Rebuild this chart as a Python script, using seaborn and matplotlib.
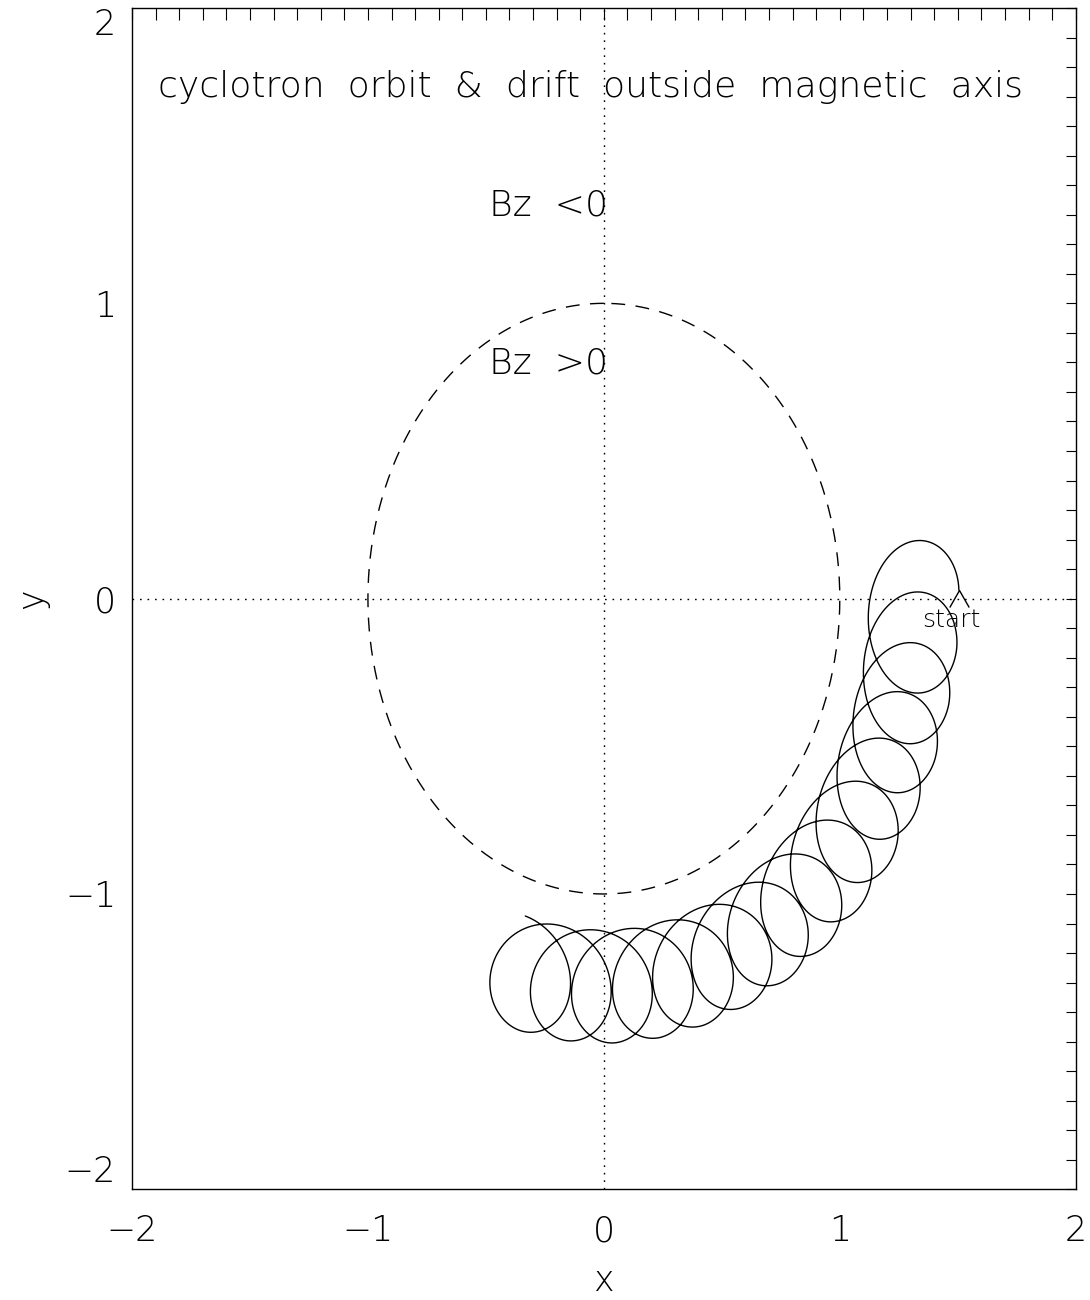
import numpy as np
import pandas as pd
import matplotlib
matplotlib.use("Agg")
import matplotlib.pyplot as plt
import seaborn as sns
from matplotlib.ticker import FixedLocator, MultipleLocator

# Guiding-centre position of the particle after each full gyration
# (turn 0 ... 14), plus the position where the trace stops (turn 14.5).
gc_turn = [0, 1, 2, 3, 4, 5, 6, 7, 8, 9, 10, 11, 12, 13, 14, 14.5]
gc_x = [1.3148, 1.3069, 1.2768, 1.2251, 1.1526, 1.0605, 0.9501, 0.8240,
        0.6840, 0.5321, 0.3713, 0.2041, 0.0335, -0.1377, -0.3066, -0.3892]
gc_y = [0.0252, -0.1459, -0.3146, -0.4779, -0.6331, -0.7776, -0.9091, -1.0248,
        -1.1231, -1.2025, -1.2615, -1.2991, -1.3146, -1.3078, -1.2788, -1.2561]

# Larmor radius along the radial and the azimuthal direction
gyro_radial = 0.19
gyro_azimuthal = 0.213

# Bz = 0 surface
reversal_radius = 1.0

axis_limits = [-2.0, 2.0]
major_ticks = [-2, -1, 0, 1, 2]
tick_labels = ["\u22122", "\u22121", "0", "1", "2"]

title_text = "cyclotron  orbit  &  drift  outside  magnetic  axis"
region_texts = ["Bz  <0", "Bz  >0"]
start_text = "start"

sns.set_style("white")
plt.rcParams["font.family"] = ["DejaVu Sans"]
plt.rcParams["font.weight"] = "light"
plt.rcParams["axes.labelweight"] = "light"
plt.rcParams["text.color"] = "black"
plt.rcParams["axes.labelcolor"] = "black"
plt.rcParams["xtick.color"] = "black"
plt.rcParams["ytick.color"] = "black"
plt.rcParams["mathtext.default"] = "regular"

fig = plt.figure(figsize=(10.9, 13), dpi=100)
ax = fig.add_axes([0.1211, 0.08515, 0.8658, 0.9087])

# particle trajectory: gyration about a drifting guiding centre
turn = np.linspace(0.0, gc_turn[-1], 4000)
cx = np.interp(turn, gc_turn, gc_x)
cy = np.interp(turn, gc_turn, gc_y)
az = np.arctan2(cy, cx)
phase = 2 * np.pi * turn
ox = gyro_radial * np.cos(phase) * np.cos(az) - gyro_azimuthal * np.sin(phase) * np.sin(az)
oy = gyro_radial * np.cos(phase) * np.sin(az) + gyro_azimuthal * np.sin(phase) * np.cos(az)
orbit = pd.DataFrame({"x": cx + ox, "y": cy + oy})

# field-reversal circle
ang = np.linspace(np.pi / 2, np.pi / 2 + 2 * np.pi, 721)
ring = pd.DataFrame({"x": reversal_radius * np.cos(ang),
                     "y": reversal_radius * np.sin(ang)})

ax.axhline(0, color="black", lw=1.0, linestyle=(0, (1.2, 4.2)), zorder=1)
ax.axvline(0, color="black", lw=1.0, linestyle=(0, (1.2, 4.2)), zorder=1)

sns.lineplot(data=ring, x="x", y="y", sort=False, estimator=None,
             color="black", lw=1.0, ax=ax)
ax.lines[-1].set_linestyle((0, (10, 7.5)))

sns.lineplot(data=orbit, x="x", y="y", sort=False, estimator=None,
             color="black", lw=1.0, ax=ax)

# start marker (open chevron with its apex on the first orbit point)
ax.plot(orbit["x"].iloc[0], orbit["y"].iloc[0],
        marker=[(-9.7, -17.0), (0.0, 0.0), (9.7, -17.0)], ms=24.5,
        mfc="none", mec="black", mew=1.0, linestyle="none")

txt = dict(color="black", fontweight="light")
ax.text(1.472, -0.096, start_text, ha="center", va="baseline", fontsize=18, **txt)
ax.text(-1.889, 1.698, title_text, ha="left", va="baseline", fontsize=26, **txt)
ax.text(-0.485, 1.299, region_texts[0], ha="left", va="baseline", fontsize=26, **txt)
ax.text(-0.485, 0.761, region_texts[1], ha="left", va="baseline", fontsize=26, **txt)

ax.set_xlim(axis_limits)
ax.set_ylim(axis_limits)
ax.xaxis.set_major_locator(FixedLocator(major_ticks))
ax.yaxis.set_major_locator(FixedLocator(major_ticks))
ax.set_xticklabels(tick_labels)
ax.set_yticklabels(tick_labels)
ax.xaxis.set_minor_locator(MultipleLocator(0.1))
ax.yaxis.set_minor_locator(MultipleLocator(0.1))

ax.tick_params(axis="both", which="both", direction="in", top=True, right=True,
               color="black", labelcolor="black", width=0.8, labelsize=25)
ax.tick_params(axis="x", which="both", length=8.4, pad=18)
ax.tick_params(axis="y", which="both", length=7.2, pad=11.5)

for side in ax.spines.values():
    side.set_visible(True)
    side.set_color("black")
    side.set_linewidth(1.0)

ax.set_xlabel("x", fontsize=25, va="center", ha="center", **txt)
ax.set_ylabel("y", fontsize=25, va="center", ha="center", **txt)
ax.xaxis.set_label_coords(0.5, -0.0776)
ax.yaxis.set_label_coords(-0.106, 0.5)

fig.canvas.draw()
yt = ax.yaxis.get_major_ticks()
yt[0].label1.set_verticalalignment("bottom")
yt[-1].label1.set_verticalalignment("top")

fig.savefig("out.png", dpi=100)
